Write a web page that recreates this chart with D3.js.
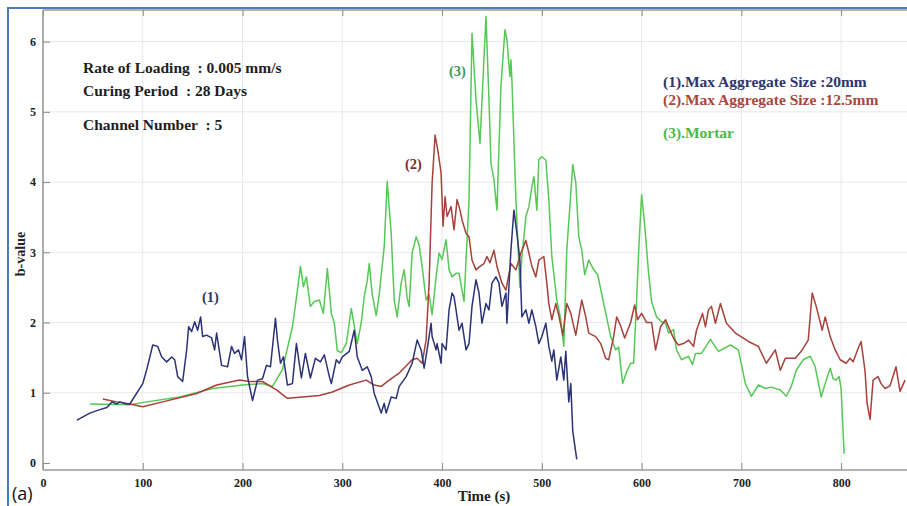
<!DOCTYPE html>
<html>
<head>
<meta charset="utf-8">
<script src="https://cdn.jsdelivr.net/npm/d3@7"></script>
<style>
    body { margin: 0; background: #fff; }
    #graph { width: 907px; height: 506px; }
    text { font-family: "Liberation Serif", "DejaVu Serif", serif; }
</style>
</head>
<body>
<div id="graph"></div>
<script>
// 坐标轴刻度
const xTicks = [0, 100, 200, 300, 400, 500, 600, 700, 800]
const yTicks = [0, 1, 2, 3, 4, 5, 6]

// (1) 最大骨料 20mm
const series1 = [
    [34,0.61],[47,0.71],[57,0.76],[64,0.79],[69,0.87],[74,0.84],[77,0.87],[84,0.84],[87,0.84],
    [100,1.13],[104,1.33],[110,1.68],[115,1.66],[119,1.51],[124,1.44],[129,1.51],[132,1.47],
    [135,1.23],[140,1.16],[144,1.61],[146,1.94],[149,1.87],[152,2.01],[155,1.89],[158,2.08],
    [160,1.80],[164,1.82],[169,1.78],[172,1.61],[174,1.85],[179,1.39],[185,1.37],[189,1.66],
    [192,1.56],[196,1.61],[199,1.47],[202,1.80],[205,1.23],[210,0.89],[215,1.18],[220,1.20],
    [224,1.39],[228,1.37],[233,2.06],[235,1.75],[238,1.42],[241,1.51],[245,1.11],[250,1.13],
    [254,1.70],[259,1.21],[263,1.56],[268,1.21],[273,1.49],[278,1.44],[282,1.54],[287,1.23],
    [289,1.13],[294,1.47],[297,1.42],[300,1.51],[307,1.59],[312,1.89],[315,1.51],[320,1.32],
    [325,1.37],[329,1.23],[332,0.99],[339,0.71],[342,0.85],[344,0.71],[349,0.94],[354,0.92],
    [357,1.09],[364,1.23],[370,1.42],[375,1.75],[379,1.61],[382,1.35],[385,1.61],[389,1.99],
    [390,1.80],[394,1.61],[395,1.70],[399,1.42],[400,1.70],[404,1.61],[407,2.18],[410,2.42],
    [412,2.37],[414,2.18],[417,1.89],[420,1.99],[424,1.61],[427,1.70],[430,2.23],[434,2.61],
    [437,2.42],[440,1.99],[444,2.27],[447,2.18],[450,2.56],[454,2.65],[457,2.56],[460,2.23],
    [464,2.42],[465,1.99],[469,3.03],[472,3.60],[475,3.27],[478,2.89],[480,2.08],[484,2.18],
    [487,1.99],[490,2.18],[494,1.94],[497,1.70],[500,1.80],[504,1.99],[507,1.66],[510,1.45],
    [512,1.61],[515,1.18],[519,1.51],[522,1.18],[524,1.59],[527,0.87],[529,1.13],[531,0.45],
    [535,0.05]
]

// (2) 最大骨料 12.5mm
const series2 = [
    [60,0.91],[74,0.87],[87,0.84],[100,0.80],[120,0.87],[154,0.99],[174,1.11],[197,1.18],
    [207,1.16],[220,1.16],[234,1.04],[245,0.92],[260,0.94],[277,0.96],[290,1.01],[307,1.11],
    [324,1.18],[332,1.11],[339,1.09],[347,1.18],[357,1.28],[370,1.47],[375,1.49],[380,1.42],
    [384,1.75],[387,2.56],[390,3.98],[393,4.67],[396,4.43],[399,4.13],[401,3.37],[403,3.79],
    [405,3.51],[409,3.65],[412,3.32],[415,3.75],[418,3.60],[420,3.46],[424,3.27],[427,3.22],
    [430,2.89],[434,2.75],[438,2.80],[442,2.84],[445,2.94],[448,2.85],[452,3.03],[455,2.80],
    [460,2.56],[464,2.46],[469,2.84],[474,2.75],[479,2.99],[484,3.17],[487,2.99],[490,2.80],
    [494,2.65],[497,2.89],[502,2.94],[505,2.56],[507,2.27],[510,2.04],[514,2.27],[517,2.10],
    [521,1.82],[525,2.27],[529,2.13],[534,1.82],[540,2.32],[544,2.08],[547,1.85],[554,1.80],
    [559,1.70],[564,1.49],[567,1.47],[572,1.80],[575,2.08],[579,1.95],[583,1.78],[589,2.00],
    [593,2.25],[596,2.04],[600,2.13],[605,2.00],[610,2.00],[614,1.61],[619,1.94],[624,2.04],
    [629,1.87],[633,1.75],[637,1.68],[642,1.70],[647,1.75],[652,1.66],[655,1.89],[661,2.13],
    [664,1.94],[667,2.18],[670,2.23],[674,1.99],[679,2.27],[685,1.99],[694,1.85],[707,1.73],
    [717,1.66],[725,1.42],[734,1.61],[739,1.32],[744,1.49],[754,1.49],[760,1.59],[767,1.75],
    [771,2.42],[775,2.23],[781,1.89],[784,2.08],[789,1.80],[794,1.61],[799,1.47],[805,1.42],
    [809,1.49],[812,1.44],[817,1.63],[820,1.73],[824,1.30],[826,0.85],[829,0.62],[832,1.18],
    [837,1.23],[840,1.13],[844,1.06],[849,1.10],[855,1.37],[859,1.02],[864,1.18]
]

// (3) 砂浆
const series3 = [
    [47,0.84],[87,0.83],[104,0.87],[137,0.94],[170,1.06],[200,1.11],[220,1.13],[230,1.09],
    [240,1.33],[250,1.94],[254,2.35],[258,2.80],[261,2.51],[264,2.65],[268,2.23],[272,2.30],
    [277,2.32],[281,2.13],[285,2.77],[289,2.13],[292,1.99],[295,1.60],[299,1.57],[304,1.70],
    [309,2.20],[312,1.95],[315,1.70],[319,2.00],[322,2.37],[325,2.60],[327,2.84],[330,2.40],
    [334,2.10],[337,2.40],[342,3.08],[345,4.01],[349,3.27],[352,2.32],[355,2.08],[359,2.56],
    [362,2.75],[365,2.35],[367,2.23],[370,2.99],[374,3.22],[377,3.10],[380,2.80],[384,2.32],
    [387,2.40],[390,2.11],[394,2.65],[397,2.99],[400,2.90],[404,3.18],[407,2.75],[410,2.65],
    [414,2.70],[417,2.70],[422,2.30],[427,3.75],[430,6.12],[434,5.17],[438,4.55],[444,6.36],
    [447,5.17],[449,4.27],[452,4.03],[455,3.60],[459,5.36],[463,6.17],[465,6.03],[468,5.50],
    [469,5.74],[470,5.45],[474,3.75],[478,2.50],[480,2.94],[484,3.51],[487,3.65],[490,3.93],
    [492,4.08],[495,3.60],[497,4.32],[500,4.36],[504,4.31],[507,3.75],[510,2.94],[515,2.32],
    [519,2.04],[522,1.66],[525,3.03],[529,3.84],[531,4.25],[534,4.00],[537,3.22],[540,3.03],
    [543,2.68],[547,2.89],[552,2.75],[556,2.68],[562,2.27],[569,1.80],[574,1.61],[577,1.65],
    [581,1.13],[585,1.30],[589,1.42],[592,1.42],[595,2.32],[597,3.00],[600,3.82],[603,3.40],
    [607,2.70],[610,2.30],[615,2.08],[620,2.01],[624,1.99],[627,1.85],[632,1.90],[635,1.61],
    [640,1.47],[647,1.52],[651,1.40],[654,1.56],[660,1.56],[669,1.76],[677,1.59],[689,1.68],
    [697,1.61],[704,1.13],[710,0.95],[717,1.11],[724,1.06],[730,1.08],[739,1.04],[745,0.95],
    [750,1.09],[755,1.32],[762,1.47],[769,1.52],[774,1.37],[780,0.94],[784,1.13],[789,1.35],
    [792,1.20],[795,1.18],[798,1.23],[800,1.05],[803,0.13]
]

const infoLines = ["Rate of Loading  : 0.005 mm/s", "Curing Period  : 28 Days", "Channel Number  : 5"]
const legendLabels = ["(1).Max Aggregate Size :20mm", "(2).Max Aggregate Size :12.5mm", "(3).Mortar"]
const seriesColors = ["#2b3374", "#a6413a", "#56c856"]

const width = 907
const height = 506
const svg = d3.select("#graph").append("svg")
    .attr("width", width)
    .attr("height", height)

const x = d3.scaleLinear().domain([0, 866]).range([43, 907])
const y = d3.scaleLinear().domain([-0.1, 6.45]).range([470, 10])
const plotLeft = 43, plotRight = 907, plotTop = 10, plotBottom = 470

// 网格线
const grid = svg.append("g")
grid.selectAll(".gx")
    .data(xTicks.slice(1))
    .enter().append("line")
    .attr("x1", d => x(d)).attr("x2", d => x(d))
    .attr("y1", plotTop).attr("y2", plotBottom)
    .attr("stroke", "#e8e8e8")
grid.selectAll(".gy")
    .data(yTicks.slice(1))
    .enter().append("line")
    .attr("x1", plotLeft).attr("x2", plotRight)
    .attr("y1", d => y(d)).attr("y2", d => y(d))
    .attr("stroke", "#e8e8e8")

// 坐标轴
const xAxis = svg.append("g")
    .attr("transform", `translate(0,${plotBottom})`)
    .call(d3.axisBottom(x).tickValues(xTicks).tickSize(-7).tickPadding(8).tickSizeOuter(0))
const xAxisTop = svg.append("g")
    .attr("transform", `translate(0,${plotTop})`)
    .call(d3.axisTop(x).tickValues(xTicks).tickSize(-6).tickFormat("").tickSizeOuter(0))
const yAxis = svg.append("g")
    .attr("transform", `translate(${plotLeft},0)`)
    .call(d3.axisLeft(y).tickValues(yTicks).tickFormat(d3.format("d")).tickSize(-7).tickPadding(7).tickSizeOuter(0))
svg.selectAll(".domain").attr("stroke", "#9a9a9a").attr("stroke-width", 1.6)
svg.selectAll(".tick line").attr("stroke", "#8a8a8a")
svg.selectAll(".tick text")
    .attr("font-family", "Liberation Serif")
    .attr("font-weight", "bold")
    .attr("font-size", 12)
    .attr("fill", "#222")
xAxisTop.select(".domain").attr("d", `M${plotLeft},0H${plotRight}`)
xAxis.select(".domain").attr("d", `M${plotLeft},0H${plotRight}`)
yAxis.select(".domain").attr("d", `M0,${plotTop}V${plotBottom}`)

// 曲线
const line = d3.line()
    .x(d => x(d[0]))
    .y(d => y(d[1]))
const allSeries = [series3, series2, series1]
const allColors = [seriesColors[2], seriesColors[1], seriesColors[0]]
svg.append("g")
    .selectAll("path")
    .data(allSeries)
    .enter().append("path")
    .attr("d", line)
    .attr("fill", "none")
    .attr("stroke", (d, i) => allColors[i])
    .attr("stroke-width", 1.5)
    .attr("stroke-linejoin", "round")

// 说明文字
svg.append("g")
    .selectAll("text")
    .data(infoLines)
    .enter().append("text")
    .attr("x", 83)
    .attr("y", (d, i) => [73, 96, 130][i])
    .attr("font-weight", "bold")
    .attr("font-size", 15.5)
    .attr("fill", "#1e1e1e")
    .style("white-space", "pre")
    .text(d => d)

// 图例
svg.append("g")
    .selectAll("text")
    .data(legendLabels)
    .enter().append("text")
    .attr("x", 663)
    .attr("y", (d, i) => [87, 105, 138][i])
    .attr("font-weight", "bold")
    .attr("font-size", 15.5)
    .attr("fill", (d, i) => ["#2d3470", "#a8463f", "#4cb84c"][i])
    .text(d => d)

// 曲线标注
const marks = [["(1)", 202, 302, "#33365e"], ["(2)", 405, 169, "#7a3030"], ["(3)", 449, 76, "#3e9a62"]]
svg.append("g")
    .selectAll("text")
    .data(marks)
    .enter().append("text")
    .attr("x", d => d[1])
    .attr("y", d => d[2])
    .attr("font-weight", "bold")
    .attr("font-size", 14.5)
    .attr("fill", d => d[3])
    .text(d => d[0])

// 轴标题
svg.append("text")
    .attr("transform", "translate(25,254) rotate(-90)")
    .attr("text-anchor", "middle")
    .attr("font-weight", "bold")
    .attr("font-size", 14)
    .attr("fill", "#222")
    .text("b-value")
svg.append("text")
    .attr("x", 484)
    .attr("y", 501)
    .attr("text-anchor", "middle")
    .attr("font-weight", "bold")
    .attr("font-size", 15)
    .attr("fill", "#222")
    .text("Time (s)")

// 外框和 (a)
svg.append("rect")
    .attr("x", 8).attr("y", 8)
    .attr("width", 1000).attr("height", 600)
    .attr("fill", "none")
    .attr("stroke", "#4a7ebb")
    .attr("stroke-width", 2)
svg.append("text")
    .attr("x", 12)
    .attr("y", 500)
    .attr("font-size", 18)
    .attr("fill", "#111")
    .style("font-family", "'Open Sans', sans-serif")
    .text("(a)")
</script>
</body>
</html>
